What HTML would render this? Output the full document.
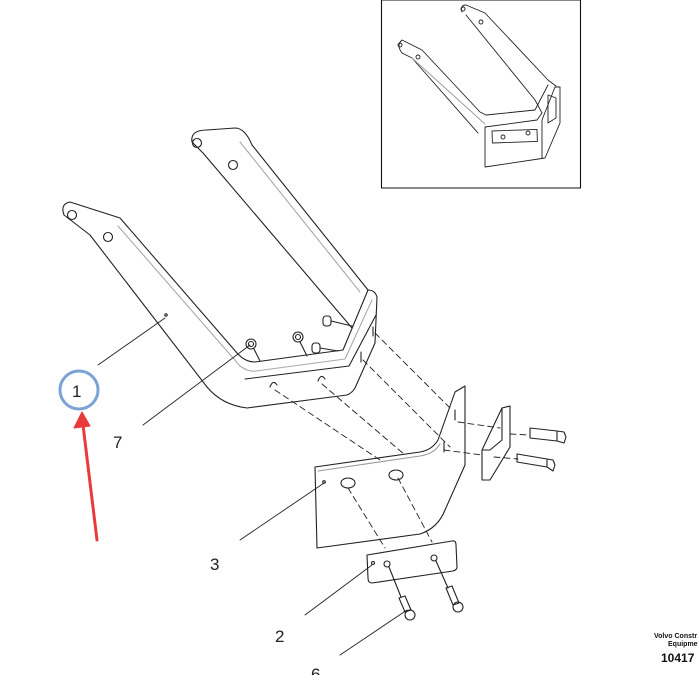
<!DOCTYPE html>
<html><head><style>
body{margin:0;background:#fff;width:699px;height:675px;overflow:hidden;font-family:"Liberation Sans",sans-serif}
</style></head><body>
<svg width="699" height="675" viewBox="0 0 699 675" xmlns="http://www.w3.org/2000/svg" fill="none" stroke="#222" stroke-width="1.1" stroke-linejoin="round" stroke-linecap="round">
<!-- inset box -->
<rect x="381.5" y="0" width="199" height="188" stroke="#111"/>
<g stroke-width="0.9">
<path d="M402,53 Q396,45 402,40 L422,50 L480,112 L486,115"/>
<path d="M402,53 L412,58 L478,133"/>
<path d="M412,58 L485,124" stroke="#999"/>
<path d="M486,115 L535,110 L548,85"/>
<path d="M462,12 Q460,5 466,5 L485,13 L548,80 L556,86"/>
<path d="M466,15 L535,100 L542,113"/>
<path d="M485,127 L537,120 L542,113 M485,127 L485,167 L545,158 L560,123 L560,87 L555,87 L542,120 L542,158"/>
<rect x="492" y="131" width="45" height="12" transform="rotate(-2 492 131)"/>
<circle cx="503" cy="137" r="2"/><circle cx="528" cy="133" r="2"/>
<path d="M548,95 L556,98 L556,118 L548,123 Z"/>
<circle cx="400" cy="45" r="2"/><circle cx="418" cy="57" r="2"/>
<circle cx="463" cy="9" r="2"/><circle cx="481" cy="22" r="2"/>
</g>
<!-- main frame -->
<!-- left arm outer/front bottom edge -->
<path d="M70,202 L120,218 L237,353 Q245,362 255,362 L343,350 L368,290"/>
<path d="M70,202 Q60,204 64,215 L90,235 L207,387 Q222,405 247,408 L347,395 Q352,393 355,388 L375,343 L377,297 Q375,290 368,290"/>
<path d="M118,226 L240,366 Q248,372 256,371 L345,359 L372,300" stroke="#aaa"/>
<path d="M245,379 L349,366 L376,315" />
<path d="M207,130 Q190,130 192,142 L203,153 L352,328"/>
<path d="M207,130 L235,128 Q245,128 252,145 L368,290"/>
<path d="M240,142 L360,292" stroke="#aaa"/>
<circle cx="72" cy="215" r="4.5"/><circle cx="108" cy="237" r="4.5"/>
<circle cx="197" cy="143" r="4.5"/><circle cx="233" cy="165" r="4.5"/>
<!-- bolts heads on frame -->
<circle cx="251" cy="344" r="5"/><circle cx="251" cy="344" r="2.5"/>
<circle cx="298" cy="337" r="5"/><circle cx="298" cy="337" r="2.5"/>
<path d="M254,349 L260,361 M300,342 L307,356"/>
<rect x="323" y="316" width="8" height="10" rx="3"/><rect x="312" y="343" width="8" height="10" rx="3"/>
<path d="M331,321 L352,326 M320,348 L338,351"/>
<path d="M270,387 q3,-8 7,-2 M318,381 q3,-8 7,-2"/>
<path d="M373,327 l0,9 M361,352 l0,10"/>
<circle cx="166" cy="315" r="1.2"/>
<!-- dashed lines -->
<g stroke-dasharray="6,4" stroke-width="0.9">
<path d="M275,390 L380,460"/>
<path d="M322,384 L405,455"/>
<path d="M375,333 L452,410"/>
<path d="M363,360 L450,447"/>
<path d="M348,488 L385,548"/>
<path d="M398,478 L432,542"/>
<path d="M458,422 L500,428 M510,434 L530,435"/>
<path d="M444,450 L482,455 M494,457 L518,459"/>
</g>
<!-- plate 3 -->
<path d="M315,467 L420,452 Q432,450 438,440 L455,392 L465,386 L465,465 L445,510 Q438,528 420,534 L317,548 Z"/>
<path d="M318,471 L420,456 Q434,454 440,444" stroke="#999"/>
<ellipse cx="348" cy="483" rx="7" ry="5"/><ellipse cx="396" cy="475" rx="7" ry="5"/>
<path d="M455,420 l0,-10 M444,452 l0,-10"/>
<circle cx="324" cy="482" r="1.3"/>
<!-- right strip -->
<path d="M482,450 L502,408 L510,406 L510,447 L490,480 L482,480 Z"/>
<path d="M502,408 L502,440 M482,450 L490,450 L502,440"/>
<!-- right bolts -->
<path d="M530,428 L557,431 L557,441 L530,438 Z M557,431 L564,432 L566,437 L564,443 L557,441"/>
<path d="M517,454 L547,459 L547,467 L517,462 Z M547,459 L553,460 L555,465 L553,471 L547,467"/>
<!-- plate 2 -->
<path d="M367,555 L452,541 Q456,540 456,545 L457,567 Q457,570 453,571 L372,583 Q368,583 368,578 Z"/>
<circle cx="373" cy="563" r="1.5"/><circle cx="387" cy="564" r="3"/><circle cx="434" cy="558" r="3"/>
<path d="M389,567 L401,597 M436,561 L448,588"/>
<path d="M399,598 L405,596 L411,610 L405,612 Z M446,588 L452,586 L459,603 L453,605 Z"/>
<circle cx="410" cy="615" r="5"/><circle cx="458" cy="607" r="5"/>
<!-- leader lines -->
<g stroke-width="0.9">
<path d="M98,365 L165,318"/>
<path d="M143,425 L250,345"/>
<path d="M240,540 L324,483"/>
<path d="M305,615 L372,565"/>
<path d="M340,655 L407,610"/>
</g>
<circle cx="79" cy="390" r="19" stroke="#7ba3d6" stroke-width="3"/>
<path d="M97,540 L83,425" stroke="#e83a3a" stroke-width="3"/>
<path d="M74,428 L82,412 L90,426 Z" fill="#e83a3a" stroke="#e83a3a"/>
<g fill="#222" stroke="none" font-size="17">
<text x="72" y="397">1</text>
<text x="113" y="448">7</text>
<text x="210" y="570">3</text>
<text x="275" y="642">2</text>
<text x="311" y="680">6</text>
</g>
<g fill="#111" stroke="none" font-weight="bold">
<text x="654" y="638" font-size="7">Volvo Constr</text>
<text x="668" y="646" font-size="7">Equipme</text>
<text x="661" y="662" font-size="12">10417</text>
</g>
</svg>
</body></html>
